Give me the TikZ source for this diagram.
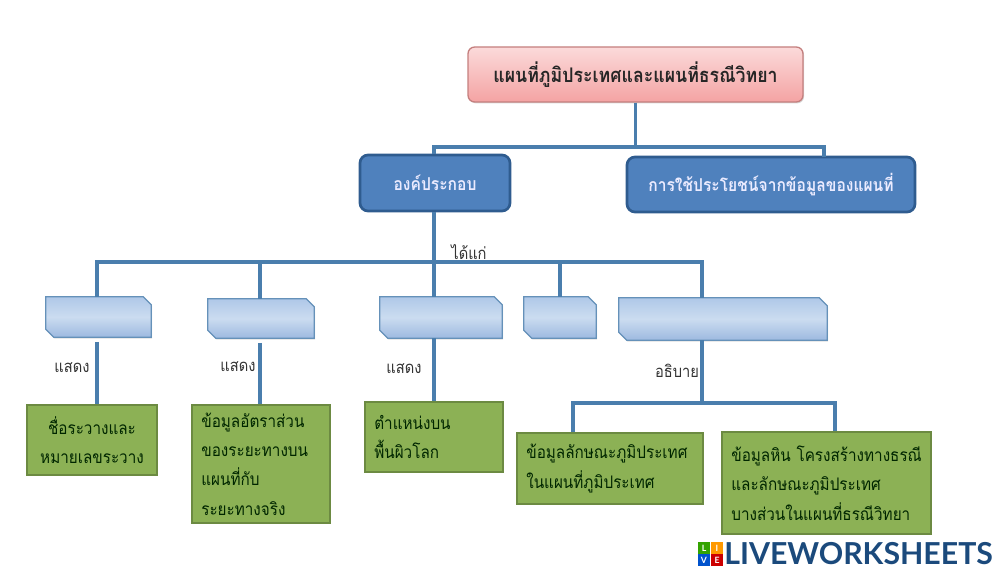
\documentclass[tikz,border=0pt]{standalone}
\usepackage{fontspec}
\usetikzlibrary{shadows}
\newfontfamily\thaifont[Script=Thai,FakeStretch=0.88]{Loma}
\newfontfamily\logofont{Lato}
\definecolor{linkblue}{HTML}{4A7EAD}
\definecolor{mainblue}{HTML}{4F81BD}
\definecolor{mainedge}{HTML}{2F5C8F}
\definecolor{leafgreen}{HTML}{8CB155}
\definecolor{leafedge}{HTML}{6C8A42}
\definecolor{wsblue}{HTML}{1B4A7C}
\definecolor{topictop}{HTML}{AFC8E8}
\definecolor{topicmid}{HTML}{CBDCF0}
\definecolor{topicbot}{HTML}{9DB9E0}
\definecolor{titletop}{HTML}{FBDADA}
\definecolor{titlebot}{HTML}{F4A3A3}
\definecolor{titleedge}{HTML}{C47F7E}
\tikzset{
  boxsize/.style 2 args={minimum width=#1*0.75pt, minimum height=#2*0.75pt},
  link/.style={linkblue, line width=2.3pt},
  titlebox/.style={draw=titleedge, line width=1pt, rounded corners=5pt,
    top color=titletop, bottom color=titlebot, drop shadow={shadow xshift=0.8pt, shadow yshift=-1pt, opacity=0.3},
    font=\thaifont\bfseries\fontsize{15.1}{17}\selectfont, text=black!85},
  mainbox/.style={draw=mainedge, line width=2pt, rounded corners=6pt, fill=mainblue,
    font=\thaifont\bfseries\fontsize{13.3}{15}\selectfont, text=white!92!blue},
  topicbox/.style={inner sep=0pt},
  topicface/.style={draw=linkblue!85!white, line width=1pt,
    top color=topictop, bottom color=topicbot, middle color=topicmid,
    drop shadow={shadow xshift=0.6pt, shadow yshift=-1pt, opacity=0.25}},
  leafbox/.style 2 args={boxsize={#1}{#2}, draw=leafedge, line width=1.6pt, fill=leafgreen,
    inner xsep=7pt, inner ysep=2pt, align=left, text width=#1*0.75pt-14pt,
    font=\thaifont\fontsize{13}{22}\selectfont, text=black!85!green},
  wordlabel/.style={font=\thaifont\fontsize{12.5}{14}\selectfont, text=black!80},
  logosquare/.style={minimum size=8.6pt, inner sep=0pt, text=white,
    font=\logofont\bfseries\fontsize{6.5}{7}\selectfont},
}
\begin{document}
\begin{tikzpicture}[x=0.75pt, y=-0.75pt]
    % Define variables for the bus lines
    \def\ytop{147}
    \def\ymid{262}
    \def\ylow{403}

    \useasboundingbox (0,0) rectangle (1000,574);

    % Title and main boxes
    \node[titlebox, boxsize={335}{55}] (title) at (635.5,74.5) {แผนที่ภูมิประเทศและแผนที่ธรณีวิทยา};
    \node[mainbox, boxsize={150}{56}] (parts) at (435,183) {องค์ประกอบ};
    \node[mainbox, boxsize={288}{55}] (usage) at (771,184.5) {การใช้ประโยชน์จากข้อมูลของแผนที่};

    % Topic boxes
    \node[topicbox, boxsize={105}{40}] (topica) at (98.5,317) {};
    \node[topicbox, boxsize={106}{39}] (topicb) at (261,318.5) {};
    \node[topicbox, boxsize={122}{41}] (topicc) at (441,317.5) {};
    \node[topicbox, boxsize={72}{41}] (topicd) at (560,317.5) {};
    \node[topicbox, boxsize={208}{42}] (topice) at (723,319) {};
    \foreach \n in {topica,topicb,topicc,topicd,topice}
        \path[topicface] (\n.north west) -- ([xshift=-6pt]\n.north east) -- ([yshift=-6pt]\n.north east)
            -- (\n.south east) -- ([xshift=6pt]\n.south west) -- ([yshift=6pt]\n.south west) -- cycle;

    % Detail boxes
    \node[leafbox={130}{70}, align=center] (leafa) at (92,440) {ชื่อระวางและ\\หมายเลขระวาง};
    \node[leafbox={138}{118}] (leafb) at (261,464) {ข้อมูลอัตราส่วน\\ของระยะทางบน\\แผนที่กับ\\ระยะทางจริง};
    \node[leafbox={138}{70}] (leafc) at (434,437) {ตำแหน่งบน\\พื้นผิวโลก};
    \node[leafbox={186}{71}] (leafd) at (610,468.5) {ข้อมูลลักษณะภูมิประเทศ\\ในแผนที่ภูมิประเทศ};
    \node[leafbox={209}{102}] (leafe) at (826.5,483) {ข้อมูลหิน~โครงสร้างทางธรณี\\และลักษณะภูมิประเทศ\\บางส่วนในแผนที่ธรณีวิทยา};

    % Bus corners
    \coordinate (topl) at (434,\ytop);
    \coordinate (topr) at (824,\ytop);
    \coordinate (usedrop) at (824,157);
    \coordinate (midl) at (97,\ymid);
    \coordinate (midb) at (260,\ymid);
    \coordinate (midc) at (434,\ymid);
    \coordinate (midr) at (702,\ymid);
    \coordinate (lowl) at (573,\ylow);
    \coordinate (lowr) at (835,\ylow);

    % Connectors
    \draw[link] (title.south) -- (title.south |- topl);
    \draw[link] (topl |- parts.north) -- (topl) -- (topr) -- (usedrop);
    \draw[link] (topl |- parts.south) -- (midc);
    \draw[link] (topica.north -| midl) -- (midl) -- (midr) -- (topice.north -| midr);
    \draw[link] (topicb.north -| midb) -- (midb);
    \draw[link] (topicc.north -| midc) -- (midc);
    \draw[link] (topicd.north) -- (topicd.north |- midl);
    \draw[link, shorten <=3.5pt] (topica.south -| midl) -- (leafa.north -| midl);
    \draw[link, shorten <=3.5pt] (topicb.south -| midb) -- (leafb.north -| midb);
    \draw[link] (topicc.south -| midc) -- (leafc.north -| midc);
    \draw[link] (topice.south -| midr) -- (midr |- lowl);
    \draw[link] (leafd.north -| lowl) -- (lowl) -- (lowr) -- (leafe.north -| lowr);

    % Labels
    \node[wordlabel] (such) at (469,252) {ได้แก่};
    \node[wordlabel] (showa) at (72,368) {แสดง};
    \node[wordlabel] (showb) at (238,367) {แสดง};
    \node[wordlabel] (showc) at (404,369) {แสดง};
    \node[wordlabel] (explain) at (677,371) {อธิบาย};

    % Watermark
    \node[logosquare, fill=green!55!black!80!yellow] (logol) at (704,548) {L};
    \node[logosquare, fill=orange!80!yellow] (logoi) at (717,548) {I};
    \node[logosquare, fill=blue!60!cyan!80!black] (logov) at (704,560) {V};
    \node[logosquare, fill=red!80!black] (logoe) at (717,560) {E};
    \node[anchor=west, inner sep=0pt, text=wsblue, font=\logofont\bfseries\fontsize{22.7}{24}\selectfont] (brand) at (724,554) {LIVEWORKSHEETS};
\end{tikzpicture}
\end{document}
